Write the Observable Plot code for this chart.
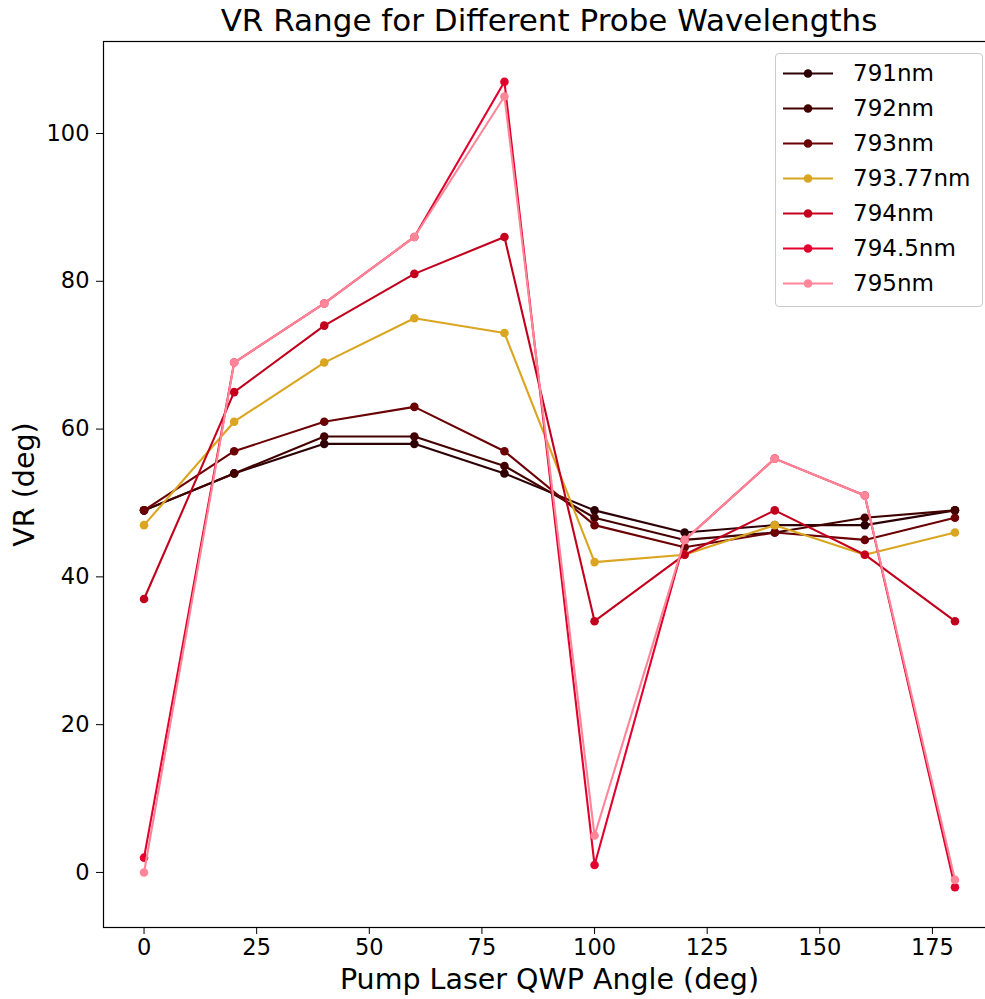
<!DOCTYPE html>
<html><head><meta charset="utf-8">
<script src="https://cdn.jsdelivr.net/npm/d3@7"></script>
<script src="https://cdn.jsdelivr.net/npm/@observablehq/plot@0.6"></script>
<style>
body{margin:0;background:#fff;overflow:hidden;font-family:"DejaVu Sans",sans-serif;}
#wrap{position:relative;width:985px;height:999px;overflow:hidden;background:#fff;}
#title{position:absolute;left:103px;top:0;width:892px;height:40px;line-height:40px;text-align:center;font-size:31px;color:#000;}
#chart{position:absolute;left:0;top:40px;width:1000px;}
#chart svg{max-width:none !important;}
#legend{position:absolute;left:775px;top:53px;width:206px;height:252px;border:1px solid #ccc;border-radius:4px;background:rgba(255,255,255,0.8);}
.row{position:absolute;left:0;height:35px;width:206px;}
.row svg{position:absolute;left:7px;top:0;}
.row span{position:absolute;left:77px;top:0;line-height:35px;font-size:23px;color:#000;white-space:nowrap;}
</style></head>
<body>
<div id="wrap">
<div id="title">VR Range for Different Probe Wavelengths</div>
<div id="chart"></div>
<div id="legend"></div>
</div>
<script>
const angles = [0, 20, 40, 60, 80, 100, 120, 140, 160, 180];
const seriesNames = ["791nm", "792nm", "793nm", "793.77nm", "794nm", "794.5nm", "795nm"];
const colors = ["#2d0006", "#420000", "#6b0005", "#daa520", "#c2001e", "#e3002e", "#ff8599"];
const vr791 = [49, 54, 58, 58, 54, 49, 46, 47, 47, 49];
const vr792 = [49, 54, 59, 59, 55, 48, 45, 46, 48, 49];
const vr793 = [49, 57, 61, 63, 57, 47, 44, 46, 45, 48];
const vr79377 = [47, 61, 69, 75, 73, 42, 43, 47, 43, 46];
const vr794 = [37, 65, 74, 81, 86, 34, 43, 49, 43, 34];
const vr7945 = [2, 69, 77, 86, 107, 1, 45, 56, 51, -2];
const vr795 = [0, 69, 77, 86, 105, 5, 45, 56, 51, -1];
const seriesValues = [vr791, vr792, vr793, vr79377, vr794, vr7945, vr795];
const xTicks = [0, 25, 50, 75, 100, 125, 150, 175];
const yTicks = [0, 20, 40, 60, 80, 100];

const table = [];
seriesNames.forEach((s, i) => angles.forEach((a, j) => table.push({series: s, angle: a, vr: seriesValues[i][j]})));

const marks = [];
seriesNames.forEach((s) => {
  const d = table.filter(r => r.series === s);
  marks.push(Plot.line(d, {x: "angle", y: "vr", stroke: "series", strokeWidth: 2.1}));
  marks.push(Plot.dot(d, {x: "angle", y: "vr", fill: "series", r: 4.3}));
});

const chart = Plot.plot({
  width: 1000,
  height: 959,
  marginLeft: 103,
  marginRight: 5,
  marginTop: 1,
  marginBottom: 72,
  style: {fontFamily: "DejaVu Sans, sans-serif", fontSize: "22px", color: "#000", background: "#fff", maxWidth: "none"},
  x: {domain: [-9, 189]},
  y: {domain: [-7.45, 112.45]},
  color: {domain: seriesNames, range: colors},
  marks: [
    ...marks,
    Plot.frame({stroke: "#000", strokeWidth: 1.2}),
    Plot.axisX({ticks: xTicks, tickSize: 7, tickPadding: 5, label: "Pump Laser QWP Angle (deg)", labelAnchor: "center", labelArrow: "none", labelOffset: 61, fontSize: 22.5}),
    Plot.axisY({ticks: yTicks, tickSize: 7, tickPadding: 7, label: "VR (deg)", labelAnchor: "center", labelArrow: "none", labelOffset: 90, fontSize: 22.5})
  ]
});
document.getElementById("chart").appendChild(chart);
chart.querySelectorAll('g[aria-label="x-axis label"] text, g[aria-label="y-axis label"] text').forEach(t => t.setAttribute("font-size", "28.5px"));

const legend = document.getElementById("legend");
seriesNames.forEach((s, i) => {
  const row = document.createElement("div");
  row.className = "row";
  row.style.top = (2 + 35 * i) + "px";
  row.innerHTML = `<svg width="52" height="35"><line x1="0" x2="50" y1="17.5" y2="17.5" stroke="${colors[i]}" stroke-width="2.1"/><circle cx="25" cy="17.5" r="4.3" fill="${colors[i]}"/></svg><span>${s}</span>`;
  legend.appendChild(row);
});
</script>
</body></html>
